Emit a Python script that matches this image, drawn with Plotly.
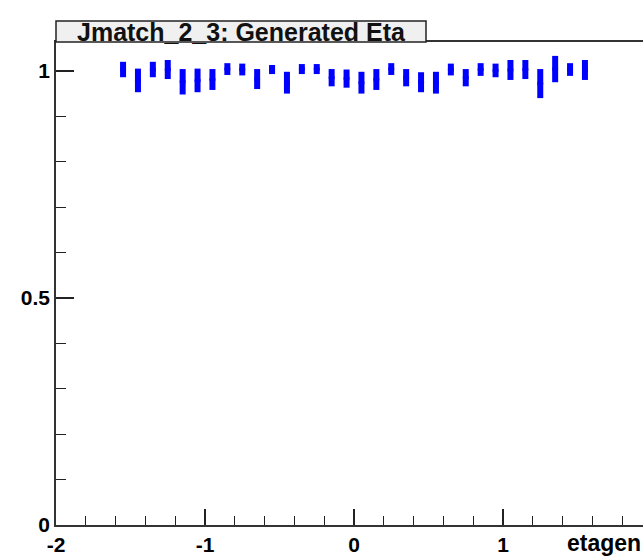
import plotly.graph_objects as go

# Data (bin centres, efficiency, error)
eta = [-1.55, -1.45, -1.35, -1.25, -1.15, -1.05, -0.95, -0.85,
       -0.75, -0.65, -0.55, -0.45, -0.35, -0.25, -0.15, -0.05,
       0.05, 0.15, 0.25, 0.35, 0.45, 0.55, 0.65, 0.75,
       0.85, 0.95, 1.05, 1.15, 1.25, 1.35, 1.45, 1.55]
eff = [1.003, 0.979, 1.003, 1.003, 0.976, 0.979, 0.981, 1.004,
       1.003, 0.982, 1.003, 0.974, 1.004, 1.004, 0.985, 0.983,
       0.974, 0.981, 1.004, 0.985, 0.975, 0.974, 1.003, 0.985,
       1.003, 1.001, 1.002, 1.003, 0.972, 1.004, 1.003, 1.002]
err = [0.017, 0.026, 0.017, 0.021, 0.028, 0.026, 0.023, 0.013,
       0.013, 0.022, 0.010, 0.024, 0.011, 0.011, 0.019, 0.020,
       0.024, 0.023, 0.013, 0.019, 0.022, 0.024, 0.013, 0.019,
       0.014, 0.015, 0.022, 0.021, 0.032, 0.029, 0.014, 0.022]

x_tickvals = [-2, -1, 0, 1, 2]
x_ticktext = ["-2", "-1", "0", "1", "2"]
y_tickvals = [0, 0.5, 1]
y_ticktext = ["0", "0.5", "1"]

title_text = "Jmatch_2_3: Generated Eta"
x_title = "etagen"

FONT = "Liberation Sans"
W, H = 643, 556
L, R, T, B = 56, 0, 42, 29

fig = go.Figure()
fig.add_trace(go.Scatter(
    x=eta, y=eff, mode="markers",
    marker=dict(color="#0000ff", size=6, symbol="circle"),
    error_y=dict(type="data", array=err, visible=True,
                 color="#0000ff", thickness=6, width=0),
    showlegend=False, hoverinfo="skip",
))

axis_common = dict(
    showgrid=False, zeroline=False, showline=True,
    linecolor="#333333", linewidth=1.5,
    ticks="inside", tickcolor="#222222", tickwidth=1.5,
    tickfont=dict(family=FONT, size=21, color="black", weight="bold"),
)

fig.update_xaxes(
    range=[-2, -2 + (W - L - R) / 149.0],
    tickmode="array", tickvals=x_tickvals, ticktext=x_ticktext,
    ticklen=16, mirror=True,
    minor=dict(ticks="inside", dtick=0.2, tick0=0, ticklen=9,
               tickcolor="#222222", tickwidth=1.2),
    **axis_common,
)
fig.update_yaxes(
    range=[0, (H - B - T) / 456.0],
    tickmode="array", tickvals=y_tickvals, ticktext=y_ticktext,
    ticklen=18,
    minor=dict(ticks="inside", dtick=0.1, tick0=0, ticklen=10,
               tickcolor="#222222", tickwidth=1.2),
    **axis_common,
)

plot_w = W - L - R
plot_h = H - T - B
box_x1 = (426 - L) / plot_w
box_y0 = 1.0
box_y1 = 1.0 + (T - 21) / plot_h

fig.add_shape(type="rect", xref="paper", yref="paper",
              x0=0, x1=box_x1, y0=box_y0, y1=box_y1,
              fillcolor="#f0f0f0", line=dict(color="#222222", width=1.5))
fig.add_annotation(xref="paper", yref="paper",
                   x=box_x1 / 2, y=(box_y0 + box_y1) / 2,
                   text=title_text, showarrow=False,
                   xanchor="center", yanchor="middle",
                   font=dict(family=FONT, size=25, color="#111111", weight="bold"))

fig.add_annotation(xref="paper", yref="paper",
                   x=(565 - L) / plot_w, y=(527 - 545) / plot_h,
                   text=x_title, showarrow=False,
                   xanchor="left", yanchor="middle",
                   font=dict(family=FONT, size=23, color="black", weight="bold"))

fig.update_layout(
    width=W, height=H,
    margin=dict(l=L, r=R, t=T, b=B, pad=0),
    plot_bgcolor="white", paper_bgcolor="white",
)

fig.write_html("out.html")
